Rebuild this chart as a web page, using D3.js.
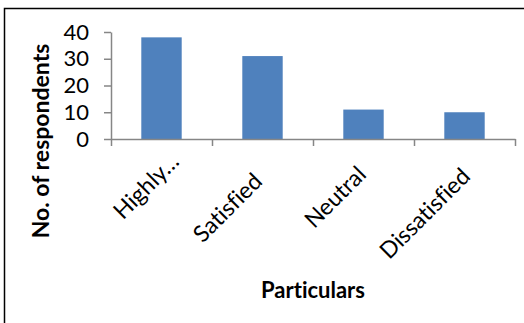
<!DOCTYPE html>
<html>
<head>
<meta charset="utf-8">
<script src="https://cdn.jsdelivr.net/npm/d3@7"></script>
<style>
  html, body { margin: 0; padding: 0; background: #fff; }
  svg { display: block; }
  text { font-family: Lato, "Open Sans", sans-serif; fill: #000; font-variant-ligatures: none; font-feature-settings: "liga" 0; }
</style>
</head>
<body>
<svg id="chart" width="524" height="323"></svg>
<script>
// Survey responses by satisfaction level
const categories = ["Highly satisfied", "Satisfied", "Neutral", "Dissatisfied"];
const categoryLabels = ["Highly…", "Satisfied", "Neutral", "Dissatisfied"];
const respondents = [38, 31, 11, 10];
const yTicks = [0, 10, 20, 30, 40];
const yTitle = "No. of respondents";
const xTitle = "Particulars";

const svg = d3.select("#chart");
const W = 524, H = 323;

// chart frame
svg.append("rect")
  .attr("x", 4.5).attr("y", 8.5)
  .attr("width", W + 10).attr("height", H + 10)
  .attr("fill", "#fff")
  .attr("stroke", "#000")
  .attr("stroke-width", 1.5);

const plot = { left: 111, right: 515, top: 32, bottom: 139 };

const x = d3.scaleBand()
  .domain(categories)
  .range([plot.left, plot.right])
  .paddingInner(0.6)
  .paddingOuter(0.3);

// category boundaries for the tick marks
const xEdge = d3.scaleLinear()
  .domain([0, categories.length])
  .range([plot.left, plot.right]);

const y = d3.scaleLinear()
  .domain([0, 40])
  .range([plot.bottom, plot.top]);

const axisColor = "#868686";

// bars
svg.append("g")
  .selectAll("rect")
  .data(categories)
  .join("rect")
  .attr("x", d => x(d))
  .attr("width", x.bandwidth())
  .attr("y", (d, i) => y(respondents[i]))
  .attr("height", (d, i) => y(0) - y(respondents[i]))
  .attr("fill", "#4F81BD");

// y axis
const yAxis = svg.append("g")
  .attr("transform", `translate(${plot.left},0)`)
  .call(d3.axisLeft(y).tickValues(yTicks).tickSize(7).tickPadding(15).tickSizeOuter(0));
yAxis.select(".domain").attr("stroke", axisColor).attr("stroke-width", 1.5);
yAxis.selectAll(".tick line").attr("stroke", axisColor).attr("stroke-width", 1.5);
yAxis.selectAll(".tick text")
  .attr("font-size", 22)
  .attr("font-family", "Lato")
  .attr("fill", "#000");

// x axis with ticks at category boundaries
const xAxis = svg.append("g")
  .attr("transform", `translate(0,${plot.bottom})`)
  .call(d3.axisBottom(xEdge).tickValues(d3.range(categories.length + 1)).tickSize(7).tickSizeOuter(0).tickFormat(""));
xAxis.select(".domain").attr("stroke", axisColor).attr("stroke-width", 1.5);
xAxis.selectAll(".tick line").attr("stroke", axisColor).attr("stroke-width", 1.5);

// rotated category labels; each label's end sits just below its category
const labelEnd = {
  "Highly satisfied": [19, 24],
  "Satisfied": [1, 44],
  "Neutral": [4, 37],
  "Dissatisfied": [7, 39]
};
svg.append("g")
  .selectAll("text")
  .data(categories)
  .join("text")
  .attr("transform", d => `translate(${x(d) + x.bandwidth() / 2 + labelEnd[d][0]},${plot.bottom + labelEnd[d][1]}) rotate(-45)`)
  .attr("text-anchor", "end")
  .attr("font-size", 23)
  .text((d, i) => categoryLabels[i]);

// axis titles
svg.append("text")
  .attr("transform", `translate(49,141) rotate(-90)`)
  .attr("text-anchor", "middle")
  .attr("font-size", 23)
  .attr("font-weight", "bold")
  .text(yTitle);

svg.append("text")
  .attr("x", (plot.left + plot.right) / 2)
  .attr("y", 298)
  .attr("text-anchor", "middle")
  .attr("font-size", 22)
  .attr("font-weight", "bold")
  .text(xTitle);
</script>
</body>
</html>
